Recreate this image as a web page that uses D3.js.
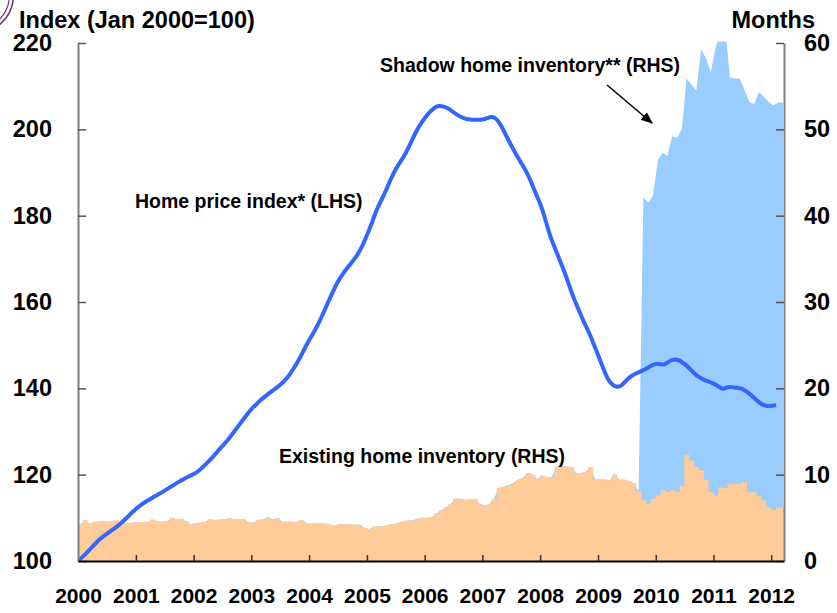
<!DOCTYPE html>
<html>
<head>
<meta charset="utf-8">
<script src="https://cdn.jsdelivr.net/npm/d3@7"></script>
<style>
  body { margin: 0; background: #fff; }
  svg { display: block; font-family: "Liberation Sans", Arial, sans-serif; font-weight: bold; }
</style>
</head>
<body>
<svg id="chart" width="837" height="613"></svg>
<script>
// monthly, Jan 2000 .. Feb 2012 (Jan 2000 = 100)
const priceIndex = [
  100, 101, 102.1, 103.3, 104.5, 105.5, 106.3, 107.1, 107.9, 108.8, 109.9, 111,
  112.1, 113, 113.7, 114.3, 115, 115.6, 116.3, 117, 117.7, 118.4, 119, 119.6,
  120.1, 120.8, 121.8, 122.9, 124, 125.4, 126.6, 127.8, 129.3, 130.8, 132.3, 133.8,
  135.2, 136.3, 137.3, 138.2, 139.1, 139.9, 140.7, 141.8, 143.2, 144.9, 146.8, 149,
  151.2, 153, 155, 157.5, 160, 162.5, 164.8, 166.5, 168, 169.4, 170.8, 172.8,
  175.5, 178.2, 181.3, 183.5, 185.8, 188.5, 190.8, 192.5, 194.3, 196.5, 199, 201,
  202.6, 204, 205, 205.5, 205.3, 204.8, 204, 203.2, 202.6, 202.3, 202.2, 202.2,
  202.2, 202.6, 203, 202.5, 200.8, 198.5, 196.3, 194.3, 192.3, 190.6, 188.2, 185.4,
  182.9, 179.5, 175.5, 172.7, 170, 167.2, 164, 160.8, 158.2, 155.5, 153.3, 150.6,
  147.8, 144.8, 142.2, 140.8, 140.2, 140.6, 142, 142.9, 143.5, 144, 144.5, 145.2,
  145.8, 145.6, 145.4, 146.5, 146.8, 146.5, 145.7, 144.7, 143.5, 142.5, 142, 141.6,
  141.1, 140.5, 139.6, 140.4, 140.3, 140.1, 140, 139.2, 138.3, 137.2, 136.3, 135.9,
  135.9, 136.1
];

// months' supply, Jan 2000 .. Mar 2012
const existingInv = [
  4.2, 4.75, 4.3, 4.55, 4.55, 4.6, 4.55, 4.65, 4.7, 4.4, 4.4, 4.45,
  4.45, 4.5, 4.5, 4.8, 4.6, 4.55, 4.6, 5.0, 4.8, 4.9, 4.6, 4.2,
  4.4, 4.45, 4.5, 4.85, 4.75, 4.8, 4.85, 4.95, 4.85, 4.85, 4.85, 4.45,
  4.45, 4.75, 4.8, 5.1, 4.85, 4.95, 4.55, 4.55, 4.55, 4.5, 4.75, 4.4,
  4.35, 4.4, 4.4, 4.35, 4.2, 4.15, 4.3, 4.25, 4.25, 4.2, 4.2, 3.85,
  3.7, 4.0, 4.0, 4.05, 4.2, 4.3, 4.4, 4.55, 4.7, 4.7, 4.9, 5.0,
  5.0, 5.1, 5.5, 5.85, 6.2, 6.6, 7.2, 7.2, 7.1, 7.15, 7.2, 6.6,
  6.45, 6.6, 7.2, 8.45, 8.6, 8.8, 9.0, 9.4, 9.6, 10.2, 10.0, 9.5,
  9.9, 9.7, 9.7, 10.95, 10.95, 10.95, 10.9, 10.2, 10.15, 10.3, 10.9, 9.4,
  9.45, 9.45, 9.35, 10.05, 9.45, 9.4, 9.3, 9.0, 8.1, 7.1, 6.65, 7.2,
  7.6, 8.2, 8.0, 8.2, 8.0, 8.7, 12.35, 11.65, 10.9, 10.5, 9.4, 8.0,
  7.6, 8.55, 8.45, 8.95, 8.95, 8.95, 9.15, 7.95, 7.95, 7.5, 7.0, 6.25,
  5.9, 6.2, 6.2
];

// months' supply, Oct 2009 .. Mar 2012
const shadowStart = 117; // month index of Oct 2009
const shadowInv = [
  42.1, 41.5, 42.3, 46.5, 47.3, 46.9, 49.2, 49.0, 50.0, 55.9,
  55.2, 54.5, 59.3, 58.2, 56.6, 59.5, 61.5, 62.0, 56.0, 55.9,
  55.9, 54.6, 53.2, 52.9, 54.3, 53.8, 53.2, 52.8, 53.1, 53.1
];

const leftTicks = [100, 120, 140, 160, 180, 200, 220];
const rightTicks = [0, 10, 20, 30, 40, 50, 60];
const yearTicks = [2000, 2001, 2002, 2003, 2004, 2005, 2006, 2007, 2008, 2009, 2010, 2011, 2012];

const svg = d3.select('#chart');
const L = 78, R = 784, T = 43, B = 561;

const x = d3.scaleTime().domain([new Date(2000, 0, 1), new Date(2012, 2, 22)]).range([L, R]);
const yL = d3.scaleLinear().domain([100, 220]).range([B, T]);
const yR = d3.scaleLinear().domain([0, 60]).range([B, T]);
const mStart = i => new Date(2000, i, 1);
const mMid = i => new Date(2000, i, 15);

svg.append('defs').append('clipPath').attr('id', 'plot')
  .append('rect').attr('x', L).attr('y', T - 1.5).attr('width', R - L).attr('height', B - T + 1.5);

// logo fragment, top left
svg.append('circle').attr('cx', -25).attr('cy', -5).attr('r', 38.5)
  .attr('fill', 'none').attr('stroke', '#6e3370').attr('stroke-width', 1.6);
svg.append('circle').attr('cx', -25).attr('cy', -5).attr('r', 34.5)
  .attr('fill', 'none').attr('stroke', '#6e3370').attr('stroke-width', 1.2);

const g = svg.append('g').attr('clip-path', 'url(#plot)');

// blue: existing inventory joined with shadow inventory, drawn as a plain area
const blueData = existingInv.map((v, i) => ({ d: mMid(i), v: i >= shadowStart ? shadowInv[i - shadowStart] : v }));
g.append('path').datum(blueData)
  .attr('fill', '#99ccff')
  .attr('d', d3.area().x(d => x(d.d)).y0(yR(0)).y1(d => yR(d.v)));

// orange: existing inventory as monthly steps
const stepData = existingInv.map((v, i) => ({ d: mStart(i), v }));
stepData.push({ d: mStart(existingInv.length), v: existingInv[existingInv.length - 1] });
g.append('path').datum(stepData)
  .attr('fill', '#ffcc99')
  .attr('d', d3.area().curve(d3.curveStepAfter).x(d => x(d.d)).y0(yR(0)).y1(d => yR(d.v)));

// price line
g.append('path').datum(priceIndex.map((v, i) => ({ d: mStart(i), v })))
  .attr('fill', 'none').attr('stroke', '#3366ff').attr('stroke-width', 4)
  .attr('stroke-linejoin', 'round')
  .attr('d', d3.line().curve(d3.curveBasis).x(d => x(d.d)).y(d => yL(d.v)));

// axes
const axL = svg.append('g').attr('transform', `translate(${L},0)`)
  .call(d3.axisLeft(yL).tickValues(leftTicks).tickSize(-8).tickSizeOuter(0).tickPadding(26));
axL.select('.domain').attr('stroke', '#7f7f7f').attr('stroke-width', 2);
axL.selectAll('.tick line').attr('stroke', '#555').attr('stroke-width', 1.5);
axL.selectAll('text').attr('font-size', 23.5).attr('fill', '#000');

const axR = svg.append('g').attr('transform', `translate(${R},0)`)
  .call(d3.axisRight(yR).tickValues(rightTicks).tickSize(-8).tickSizeOuter(0).tickPadding(20));
axR.select('.domain').attr('stroke', '#7f7f7f').attr('stroke-width', 2);
axR.selectAll('.tick line').attr('stroke', '#555').attr('stroke-width', 1.5);
axR.selectAll('text').attr('font-size', 23.5).attr('fill', '#000');

const axB = svg.append('g').attr('transform', `translate(0,${B})`)
  .call(d3.axisBottom(x).tickValues(yearTicks.map(y => new Date(y, 0, 1)))
    .tickFormat(d3.timeFormat('%Y')).tickSize(-6).tickSizeOuter(0).tickPadding(27));
axB.select('.domain').attr('stroke', '#000').attr('stroke-width', 2);
axB.selectAll('.tick line').attr('stroke', '#333').attr('stroke-width', 1.5);
axB.selectAll('text').attr('font-size', 21).attr('fill', '#000');
axB.selectAll('.tick').filter(d => d.getFullYear() === 2000).select('line').remove();

// titles and labels
svg.append('text').attr('x', 19).attr('y', 28).attr('font-size', 23.5).text('Index (Jan 2000=100)');
svg.append('text').attr('x', 815).attr('y', 28).attr('font-size', 23.5).attr('text-anchor', 'end').text('Months');
svg.append('text').attr('x', 135).attr('y', 208).attr('font-size', 19.5).text('Home price index* (LHS)');
svg.append('text').attr('x', 279).attr('y', 463).attr('font-size', 19.5).text('Existing home inventory (RHS)');
svg.append('text').attr('x', 380).attr('y', 72).attr('font-size', 19.5).text('Shadow home inventory** (RHS)');

// arrow
svg.select('defs').append('marker').attr('id', 'arrow')
  .attr('viewBox', '0 0 10 10').attr('refX', 9).attr('refY', 5)
  .attr('markerWidth', 8).attr('markerHeight', 8).attr('orient', 'auto')
  .append('path').attr('d', 'M0,1 L10,5 L0,9 Z').attr('fill', '#000');
svg.append('line').attr('x1', 607).attr('y1', 85).attr('x2', 652).attr('y2', 123)
  .attr('stroke', '#000').attr('stroke-width', 1.5).attr('marker-end', 'url(#arrow)');
</script>
</body>
</html>
